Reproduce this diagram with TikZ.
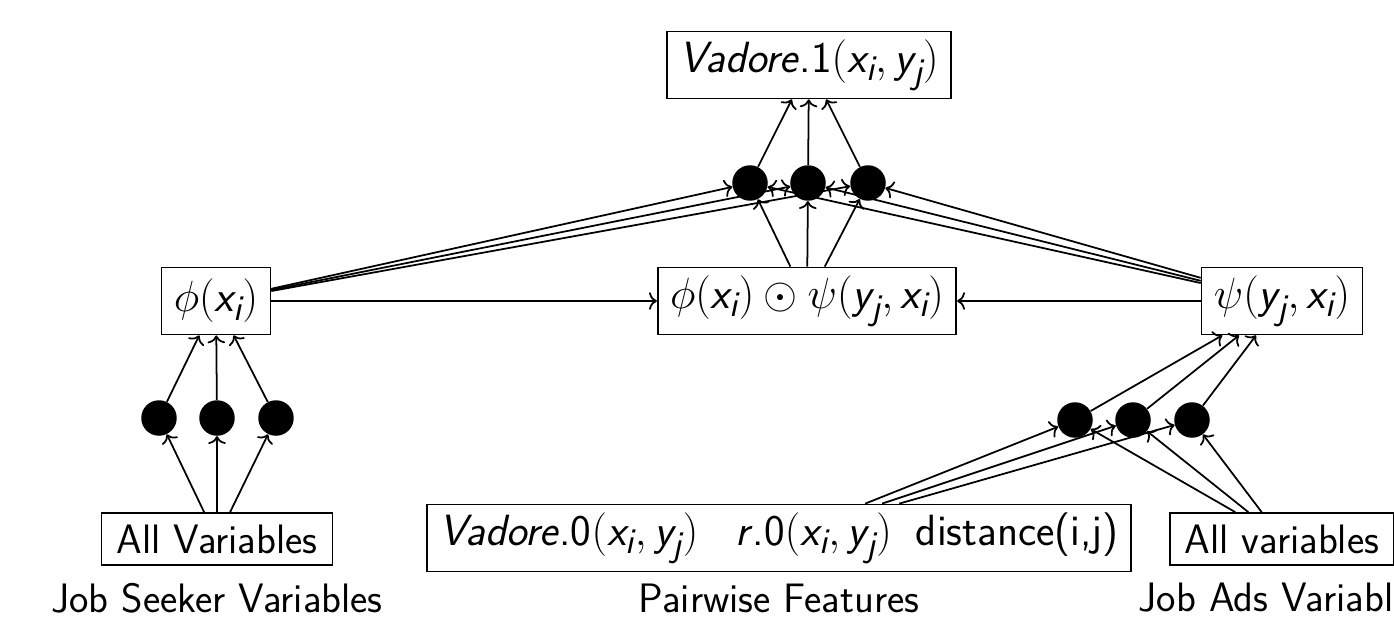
\documentclass[tikz,border=0pt]{standalone}
\usepackage{amsmath}
\usetikzlibrary{arrows.meta}
% italic sans letters and upright sans digits inside math
\newcommand\si[1]{\textsf{\itshape #1}}
\newcommand\su[1]{\textsf{#1}}
\begin{document}
\begin{tikzpicture}[x=0.02cm,y=-0.02cm,
  font=\fontsize{23.4}{28}\selectfont\sffamily,
  box/.style={draw, line width=1pt, inner xsep=8.5pt, inner ysep=0pt, minimum height=1.04cm},
  mbox/.style={box, font=\Huge\sffamily, inner xsep=7pt, minimum height=1.34cm},
  dot/.style={circle, fill=black, minimum size=0.71cm, inner sep=0pt},
  link/.style={line width=1pt, -{To[length=4.5pt,width=10pt]}}]
\useasboundingbox (0,0) rectangle (1394,619);
\clip (0,0) rectangle (1394,619);

% output and hidden layer at the top
\node[mbox] (top) at (809,65) {\si{Vadore}\su{.1}$(\si{x}_{\si{i}},\si{y}_{\si{j}})$};
\node[dot] (t1) at (750,183) {};
\node[dot] (t2) at (808,183) {};
\node[dot] (t3) at (868,183) {};

% embeddings
\node[mbox] (phi) at (216,301) {$\phi(\si{x}_{\si{i}})$};
\node[mbox] (mid) at (807,301) {$\phi(\si{x}_{\si{i}})\odot\psi(\si{y}_{\si{j}},\si{x}_{\si{i}})$};
\node[mbox] (psi) at (1282,301) {$\psi(\si{y}_{\si{j}},\si{x}_{\si{i}})$};

% job seeker branch
\node[dot] (l1) at (159,418) {};
\node[dot] (l2) at (217,418) {};
\node[dot] (l3) at (276,418) {};
\node[box] (jsv) at (217,539) {All Variables};
\node (jsl) at (217,598) {Job Seeker Variables};

% job ads branch and pairwise features
\node[dot] (r1) at (1075,420) {};
\node[dot] (r2) at (1133,420) {};
\node[dot] (r3) at (1192,420) {};
\node[mbox] (pw) at (779,538) {\si{Vadore}\su{.0}$(\si{x}_{\si{i}},\si{y}_{\si{j}})$\hspace{0.85em}\si{r}\su{.0}$(\si{x}_{\si{i}},\si{y}_{\si{j}})$\hspace{0.55em}distance(i,j)};
\node (pwl) at (779,598) {Pairwise Features};
\node[box] (jav) at (1282,539) {All variables};
\node (jal) at (1282,598) {Job Ads Variables};

% connectors
\foreach \d in {t1,t2,t3} {
  \draw[link] (\d) -- (top);
  \draw[link] (phi) -- (\d);
  \draw[link] (psi) -- (\d);
  \draw[link] (mid) -- (\d);
}
\draw[link] (phi) -- (mid);
\draw[link] (psi) -- (mid);
\foreach \d in {l1,l2,l3} {
  \draw[link] (jsv) -- (\d);
  \draw[link] (\d) -- (phi);
}
\foreach \d in {r1,r2,r3} {
  \draw[link] (pw) -- (\d);
  \draw[link] (jav) -- (\d);
  \draw[link] (\d) -- (psi);
}
\end{tikzpicture}
\end{document}
